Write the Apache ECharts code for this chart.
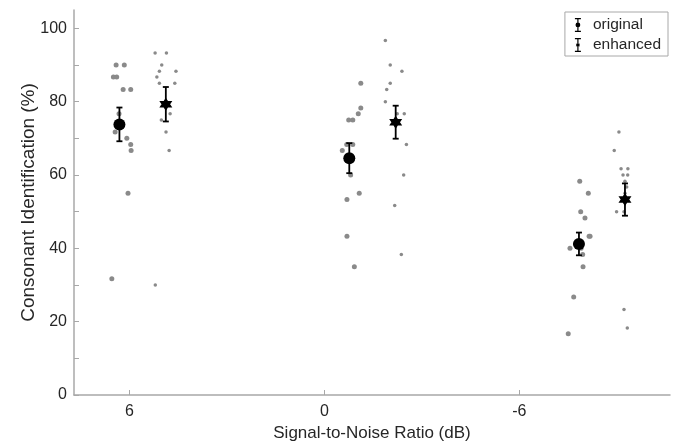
<!DOCTYPE html>
<html>
<head>
<meta charset="utf-8">
<script src="https://cdn.jsdelivr.net/npm/echarts@6/dist/echarts.min.js"></script>
<style>
  html, body { margin: 0; padding: 0; background: #fff; }
  #chart { width: 678px; height: 448px; }
</style>
</head>
<body>
<div id="chart"></div>
<script>
// SNR conditions shown on the x axis
const snrLabels = ['6', '0', '-6']
const snrTicks = [1, 2, 3]
const yTicks = [0, 10, 20, 30, 40, 50, 60, 70, 80, 90, 100]
const yLabels = [0, 20, 40, 60, 80, 100]

// individual listeners, [x position, score %]
const originalPoints = [
  [0.932, 90.0], [0.974, 90.0], [0.918, 86.7], [0.935, 86.7], [0.968, 83.3],
  [1.007, 83.3], [0.947, 76.7], [0.927, 71.7], [0.987, 70.0], [1.007, 68.3],
  [1.009, 66.7], [0.993, 55.0], [0.910, 31.7],
  [2.187, 85.0], [2.187, 78.3], [2.174, 76.7], [2.125, 75.0], [2.146, 75.0],
  [2.115, 68.3], [2.146, 68.3], [2.092, 66.7], [2.135, 60.0], [2.179, 55.0],
  [2.116, 53.3], [2.116, 43.3], [2.154, 35.0],
  [3.310, 58.3], [3.354, 55.0], [3.315, 50.0], [3.337, 48.3], [3.363, 43.3],
  [3.358, 43.3], [3.296, 41.7], [3.317, 40.0], [3.260, 40.0], [3.325, 38.3],
  [3.327, 35.0], [3.279, 26.7], [3.251, 16.7]
]
const enhancedPoints = [
  [1.132, 93.3], [1.190, 93.3], [1.166, 90.0], [1.154, 88.3], [1.239, 88.3],
  [1.141, 86.7], [1.154, 85.0], [1.233, 85.0], [1.209, 76.7], [1.164, 75.0],
  [1.188, 71.7], [1.204, 66.7], [1.133, 30.0],
  [2.313, 96.7], [2.338, 90.0], [2.398, 88.3], [2.338, 85.0], [2.320, 83.3],
  [2.313, 80.0], [2.374, 76.7], [2.410, 76.7], [2.366, 75.0], [2.421, 68.3],
  [2.407, 60.0], [2.361, 51.7], [2.395, 38.3],
  [3.511, 71.7], [3.487, 66.7], [3.522, 61.7], [3.557, 61.7], [3.532, 60.0],
  [3.556, 60.0], [3.542, 58.3], [3.551, 56.7], [3.542, 55.0], [3.499, 50.0],
  [3.537, 50.0], [3.537, 23.3], [3.554, 18.3]
]

// group means, [x position, mean %, standard error]
const originalMeans = [[0.949, 73.8, 4.6], [2.128, 64.6, 4.1], [3.306, 41.2, 3.1]]
const enhancedMeans = [[1.187, 79.3, 4.7], [2.366, 74.4, 4.5], [3.542, 53.3, 4.4]]

const hexagram = 'path://M0,-1L0.866,0.5L-0.866,0.5Z M0,1L-0.866,-0.5L0.866,-0.5Z'
const originalIcon = 'path://M1 0H7V1.2H1Z M1 12.8H7V14H1Z M3.4 1.2H4.6V12.8H3.4Z M1.6 7A2.4 2.4 0 1 1 6.4 7A2.4 2.4 0 1 1 1.6 7Z'
const enhancedIcon = 'path://M1 0H7V1.2H1Z M1 12.8H7V14H1Z M3.4 1.2H4.6V12.8H3.4Z M4 4.6L6.08 8.2L1.92 8.2Z M4 9.4L1.92 5.8L6.08 5.8Z'

const textColor = '#262626'
const axisColor = '#a8a8a8'

const renderErrorBar = (params, api) => {
  const x = api.value(0)
  const mean = api.value(1)
  const se = api.value(2)
  const top = api.coord([x, mean + se])
  const bottom = api.coord([x, mean - se])
  const half = 3
  const style = { stroke: '#000', lineWidth: 1.8 }
  return {
    type: 'group',
    children: [
      { type: 'line', shape: { x1: top[0], y1: top[1], x2: bottom[0], y2: bottom[1] }, style },
      { type: 'line', shape: { x1: top[0] - half, y1: top[1], x2: top[0] + half, y2: top[1] }, style },
      { type: 'line', shape: { x1: bottom[0] - half, y1: bottom[1], x2: bottom[0] + half, y2: bottom[1] }, style }
    ]
  }
}

const chart = echarts.init(document.getElementById('chart'))

chart.setOption({
  animation: false,
  textStyle: { fontFamily: 'Liberation Sans, Arial, sans-serif' },
  grid: { left: 74, right: 8, top: 10, bottom: 53 },
  legend: {
    orient: 'vertical',
    right: 10,
    top: 12,
    padding: [5, 7, 3, 10],
    itemGap: 4,
    itemWidth: 20,
    itemHeight: 14,
    selectedMode: false,
    borderColor: '#a8a8a8',
    borderWidth: 1,
    backgroundColor: '#fff',
    textStyle: { fontSize: 15.5, color: textColor },
    data: [
      { name: 'original', icon: originalIcon },
      { name: 'enhanced', icon: enhancedIcon }
    ]
  },
  xAxis: {
    type: 'value',
    min: 0.716,
    max: 3.773,
    name: 'Signal-to-Noise Ratio (dB)',
    nameLocation: 'middle',
    nameGap: 24,
    nameTextStyle: { fontSize: 17, color: textColor },
    splitLine: { show: false },
    axisLine: { lineStyle: { color: axisColor, width: 1.5 } },
    axisTick: { customValues: snrTicks, inside: true, length: 5, lineStyle: { color: axisColor } },
    axisLabel: {
      customValues: snrTicks,
      fontSize: 16,
      color: textColor,
      margin: 9,
      formatter: (v) => snrLabels[snrTicks.indexOf(v)]
    }
  },
  yAxis: {
    type: 'value',
    min: 0,
    max: 105,
    name: 'Consonant Identification (%)',
    nameLocation: 'middle',
    nameGap: 36,
    nameMoveOverlap: false,
    nameTextStyle: { fontSize: 19, color: textColor },
    splitLine: { show: false },
    axisLine: { show: true, lineStyle: { color: axisColor, width: 1.5 } },
    axisTick: { customValues: yTicks, inside: true, length: 5, lineStyle: { color: axisColor } },
    axisLabel: { customValues: yLabels, fontSize: 16, color: textColor, margin: 7 }
  },
  series: [
    {
      name: 'original listeners',
      type: 'scatter',
      data: originalPoints,
      symbolSize: 5,
      itemStyle: { color: '#8a8a8a', opacity: 1 },
      z: 1
    },
    {
      name: 'enhanced listeners',
      type: 'scatter',
      data: enhancedPoints,
      symbolSize: 3.5,
      itemStyle: { color: '#8a8a8a', opacity: 1 },
      z: 1
    },
    {
      name: 'original error',
      type: 'custom',
      renderItem: renderErrorBar,
      encode: { x: 0, y: 1 },
      data: originalMeans,
      z: 3
    },
    {
      name: 'enhanced error',
      type: 'custom',
      renderItem: renderErrorBar,
      encode: { x: 0, y: 1 },
      data: enhancedMeans,
      z: 3
    },
    {
      name: 'original',
      type: 'scatter',
      data: originalMeans.map(d => [d[0], d[1]]),
      symbol: 'circle',
      symbolSize: 12,
      itemStyle: { color: '#000', opacity: 1 },
      z: 4
    },
    {
      name: 'enhanced',
      type: 'scatter',
      data: enhancedMeans.map(d => [d[0], d[1]]),
      symbol: hexagram,
      symbolSize: 13,
      itemStyle: { color: '#000', opacity: 1 },
      z: 4
    }
  ]
})

window.addEventListener('resize', () => chart.resize())
</script>
</body>
</html>
